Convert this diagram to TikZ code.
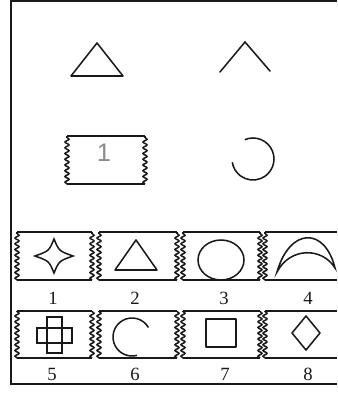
\documentclass[tikz,border=0pt]{standalone}
\usepackage{fontspec}
\setmainfont{Liberation Serif}
\setsansfont{Liberation Sans}
\usetikzlibrary{calc,decorations.pathmorphing}
\usepackage{tkz-euclide}
\definecolor{InkClr}{rgb}{0.1,0.1,0.1}
\definecolor{PencilClr}{rgb}{0.55,0.55,0.55}

% a ticket: straight top and bottom, torn left and right edges
\newcommand{\ticket}[4]{%
  \draw[tickettop] (#1,#2) -- (#3,#2);
  \draw[tickettop] (#1,#4) -- (#3,#4);
  \draw[ticketedge] (#1,#2) -- (#1,#4);
  \draw[ticketedge] (#3,#2) -- (#3,#4);
}

\begin{document}
\begin{tikzpicture}[x=0.75pt,y=0.75pt,line width=1.15pt,color=InkClr,
  ticketedge/.style={decorate,decoration={snake,segment length=4.3pt,amplitude=1.5pt}},
  tickettop/.style={line width=1.5pt},
  numlabel/.style={font=\fontsize{14}{14}\selectfont}]
\useasboundingbox (0,0) rectangle (337,394);
\clip (0,0) rectangle (337,394);
\tkzSetUpLine[line width=1.15pt,color=InkClr]

% frame
\draw[line width=1.3pt] (11,10) rectangle (350,393);

% top: triangle and open angle
\tkzDefPoints{71/318/A,123/318/B,97/351/C,220/322/D,245/352/E,270/323/F}
\tkzDrawPolygon(A,B,C)
\tkzDrawPolySeg(D,E,F)

% top: ticket with pencil mark, and arc
\ticket{67}{210}{145}{258}
\node[text=PencilClr,font=\sffamily\fontsize{19}{19}\selectfont] (tag) at (104,241) {1};
\coordinate (ca) at (253,235);
\draw ($(ca)+(113:21)$) arc[start angle=113,end angle=-171,radius=21];

% answer tickets
\foreach \xa/\xb in {17/92,99/177,183/260,265/345}{
  \ticket{\xa}{114}{\xb}{162}
  \ticket{\xa}{36}{\xb}{83}
}

% 1: four pointed star
\draw (73,138) .. controls (59,143) .. (54,155) .. controls (49,143) .. (35,138)
  .. controls (49,133) .. (54,121) .. controls (59,133) .. (73,138) -- cycle;
% 2: triangle
\tkzDefPoints{115/124/G,157/124/H,136/154/K}
\tkzDrawPolygon(G,H,K)
% 3: circle resting on the ticket edge
\draw (221,134) ellipse [x radius=23,y radius=20];
% 4: crescent
\draw (277,122) .. controls (290,167) and (325,167) .. (335,126)
  .. controls (322,147) and (290,147) .. (277,122) -- cycle;
% 5: cross
\draw (47,41) rectangle (62,77);
\draw (37,51) rectangle (72,66);
% 6: open arc
\coordinate (cb) at (132,57);
\draw ($(cb)+(30:19)$) arc[start angle=30,end angle=285,radius=19];
% 7: square
\tkzDefPoints{206/47/P,236/47/Q,236/75/R,206/75/S}
\tkzDrawPolygon(P,Q,R,S)
% 8: diamond
\tkzDefPoints{292/61/T,306/44/U,320/61/V,306/78/W}
\tkzDrawPolygon(T,U,V,W)

% numbers
\foreach \n/\x in {1/53,2/135,3/224,4/308}
  \node[numlabel] (lab\n) at (\x,96) {\n};
\foreach \n/\x in {5/52,6/135,7/225,8/308}
  \node[numlabel] (lab\n) at (\x,20) {\n};

\end{tikzpicture}
\end{document}
